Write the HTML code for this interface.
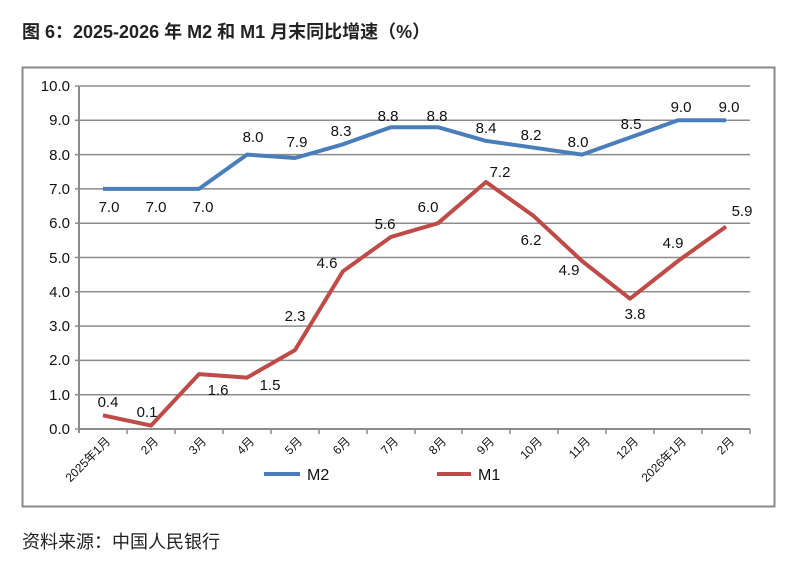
<!DOCTYPE html>
<html><head><meta charset="utf-8"><style>
body{margin:0;background:#fff;width:800px;height:571px;overflow:hidden;font-family:"Liberation Sans","Noto Sans CJK SC",sans-serif}
</style></head><body>
<svg width="800" height="571" xmlns="http://www.w3.org/2000/svg" font-family="Liberation Sans, Noto Sans CJK SC, sans-serif">
<text x="22" y="38" font-size="18" font-weight="bold" fill="#222">图 6：2025-2026 年 M2 和 M1 月末同比增速（%）</text>
<rect x="22.5" y="67.5" width="752" height="439" fill="#fff" stroke="#8a8a8a" stroke-width="2"/>
<g stroke="#8c8c8c" stroke-width="1.5">
<line x1="79" y1="86" x2="750" y2="86"/><line x1="79" y1="120.3" x2="750" y2="120.3"/><line x1="79" y1="154.6" x2="750" y2="154.6"/><line x1="79" y1="188.9" x2="750" y2="188.9"/><line x1="79" y1="223.2" x2="750" y2="223.2"/><line x1="79" y1="257.5" x2="750" y2="257.5"/><line x1="79" y1="291.8" x2="750" y2="291.8"/><line x1="79" y1="326.1" x2="750" y2="326.1"/><line x1="79" y1="360.4" x2="750" y2="360.4"/><line x1="79" y1="394.7" x2="750" y2="394.7"/>
<line x1="79" y1="429" x2="750" y2="429" stroke-width="2"/>
<line x1="79" y1="86" x2="79" y2="433" stroke-width="2"/>
<line x1="75" y1="86" x2="79" y2="86"/><line x1="75" y1="120.3" x2="79" y2="120.3"/><line x1="75" y1="154.6" x2="79" y2="154.6"/><line x1="75" y1="188.9" x2="79" y2="188.9"/><line x1="75" y1="223.2" x2="79" y2="223.2"/><line x1="75" y1="257.5" x2="79" y2="257.5"/><line x1="75" y1="291.8" x2="79" y2="291.8"/><line x1="75" y1="326.1" x2="79" y2="326.1"/><line x1="75" y1="360.4" x2="79" y2="360.4"/><line x1="75" y1="394.7" x2="79" y2="394.7"/><line x1="75" y1="429" x2="79" y2="429"/>
<line x1="127" y1="429" x2="127" y2="434"/><line x1="175" y1="429" x2="175" y2="434"/><line x1="223" y1="429" x2="223" y2="434"/><line x1="271" y1="429" x2="271" y2="434"/><line x1="319" y1="429" x2="319" y2="434"/><line x1="367" y1="429" x2="367" y2="434"/><line x1="415" y1="429" x2="415" y2="434"/><line x1="462" y1="429" x2="462" y2="434"/><line x1="510" y1="429" x2="510" y2="434"/><line x1="558" y1="429" x2="558" y2="434"/><line x1="606" y1="429" x2="606" y2="434"/><line x1="654" y1="429" x2="654" y2="434"/><line x1="702" y1="429" x2="702" y2="434"/><line x1="750" y1="429" x2="750" y2="434"/>
</g>
<g font-size="15" fill="#111" text-anchor="end">
<text x="70" y="91">10.0</text><text x="70" y="125">9.0</text><text x="70" y="160">8.0</text><text x="70" y="194">7.0</text><text x="70" y="228">6.0</text><text x="70" y="263">5.0</text><text x="70" y="297">4.0</text><text x="70" y="331">3.0</text><text x="70" y="365">2.0</text><text x="70" y="400">1.0</text><text x="70" y="434">0.0</text>
</g>
<g font-size="12" fill="#111" text-anchor="end">
<text transform="translate(111,442) rotate(-45)">2025年1月</text>
<text transform="translate(159,442) rotate(-45)">2月</text>
<text transform="translate(207,442) rotate(-45)">3月</text>
<text transform="translate(255,442) rotate(-45)">4月</text>
<text transform="translate(303,442) rotate(-45)">5月</text>
<text transform="translate(351,442) rotate(-45)">6月</text>
<text transform="translate(399,442) rotate(-45)">7月</text>
<text transform="translate(447,442) rotate(-45)">8月</text>
<text transform="translate(495,442) rotate(-45)">9月</text>
<text transform="translate(543,442) rotate(-45)">10月</text>
<text transform="translate(591,442) rotate(-45)">11月</text>
<text transform="translate(639,442) rotate(-45)">12月</text>
<text transform="translate(687,442) rotate(-45)">2026年1月</text>
<text transform="translate(735,442) rotate(-45)">2月</text>
</g>
<polyline fill="none" stroke="#4a7ebb" stroke-width="4" stroke-linejoin="round" points="103,188.9 151,188.9 199,188.9 247,154.6 295,158 343,144.3 391,127.2 438,127.2 486,140.9 534,147.7 582,154.6 630,137.5 678,120.3 726,120.3"/>
<polyline fill="none" stroke="#be4b48" stroke-width="4" stroke-linejoin="round" points="103,415.3 151,425.6 199,374.1 247,377.6 295,350.1 343,271.2 391,236.9 438,223.2 486,182 534,216.3 582,261 630,298.7 678,261 726,226.6"/>
<g font-size="15" fill="#111" text-anchor="middle">
<text x="109" y="212">7.0</text><text x="156" y="212">7.0</text><text x="203" y="212">7.0</text><text x="253" y="142">8.0</text><text x="297" y="147">7.9</text><text x="341" y="136">8.3</text><text x="388" y="121">8.8</text><text x="437" y="121">8.8</text><text x="486" y="133">8.4</text><text x="531" y="140">8.2</text><text x="578" y="147">8.0</text><text x="631" y="129">8.5</text><text x="681" y="112">9.0</text><text x="729" y="112">9.0</text>
<text x="108" y="407">0.4</text><text x="147" y="417">0.1</text><text x="218" y="395">1.6</text><text x="270" y="390">1.5</text><text x="295" y="321">2.3</text><text x="327" y="268">4.6</text><text x="385" y="229">5.6</text><text x="428" y="212">6.0</text><text x="500" y="177">7.2</text><text x="531" y="245">6.2</text><text x="569" y="275">4.9</text><text x="635" y="319">3.8</text><text x="673" y="248">4.9</text><text x="742" y="216">5.9</text>
</g>
<line x1="264" y1="474" x2="300" y2="474" stroke="#4a7ebb" stroke-width="4"/>
<text x="307" y="480" font-size="16" fill="#111">M2</text>
<line x1="437" y1="474" x2="471" y2="474" stroke="#be4b48" stroke-width="4"/>
<text x="478" y="480" font-size="16" fill="#111">M1</text>
<text x="22" y="548" font-size="18" fill="#222">资料来源：中国人民银行</text>
</svg>
</body></html>
